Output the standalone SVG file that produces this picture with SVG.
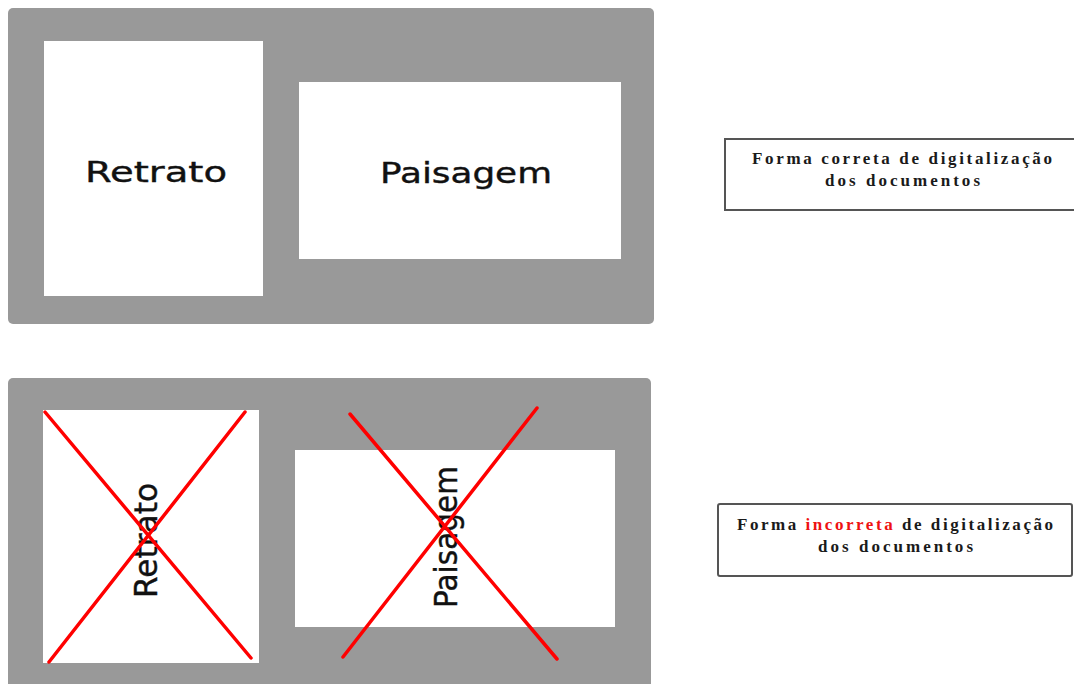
<svg xmlns="http://www.w3.org/2000/svg" width="1074" height="684" viewBox="0 0 1074 684">
<style>
.panel{fill:#999999}
.sheet{fill:#ffffff}
.lbl{font-family:"DejaVu Sans","Open Sans",sans-serif;font-size:29px;fill:#111;stroke:#111;stroke-width:0.4}
.rot{font-size:32px}
.cross{stroke:#ff0000;stroke-width:3.5;stroke-linecap:round}
.box{fill:#ffffff;stroke:#555555;stroke-width:2}
.cap{font-family:"Liberation Serif","Times New Roman",serif;font-weight:bold;font-size:17px;fill:#1a1a1a}
.red{fill:#ee1111}
</style>
<rect width="1074" height="684" fill="#ffffff"/>
<g id="top-panel">
<rect class="panel" x="8" y="8" width="646" height="316" rx="5"/>
<g id="top-retrato">
<rect class="sheet" x="44" y="41" width="219" height="255"/>
<text class="lbl" x="85" y="182" textLength="142" lengthAdjust="spacingAndGlyphs">Retrato</text>
</g>
<g id="top-paisagem">
<rect class="sheet" x="299" y="82" width="322" height="177"/>
<text class="lbl" x="380" y="183" textLength="172" lengthAdjust="spacingAndGlyphs">Paisagem</text>
</g>
</g>
<g id="bottom-panel">
<rect class="panel" x="8" y="378" width="643" height="320" rx="5"/>
<g id="bottom-retrato">
<rect class="sheet" x="43" y="410" width="216" height="253"/>
<text class="lbl rot" transform="translate(157,598) rotate(-90)" x="0" y="0" textLength="115" lengthAdjust="spacingAndGlyphs">Retrato</text>
</g>
<g id="bottom-paisagem">
<rect class="sheet" x="295" y="450" width="320" height="177"/>
<text class="lbl rot" transform="translate(457,608) rotate(-90)" x="0" y="0" textLength="142" lengthAdjust="spacingAndGlyphs">Paisagem</text>
</g>
</g>
<g id="connectors">
<line class="cross" x1="45" y1="412" x2="251" y2="658"/>
<line class="cross" x1="245" y1="412" x2="49" y2="662"/>
<line class="cross" x1="350" y1="414" x2="557" y2="659"/>
<line class="cross" x1="537" y1="408" x2="343" y2="657"/>
</g>
<g id="label-correta">
<rect class="box" x="725" y="139" width="360" height="71"/>
<text class="cap" x="752" y="164" textLength="300" lengthAdjust="spacing">Forma correta de digitalização</text>
<text class="cap" x="825" y="186" textLength="155" lengthAdjust="spacing">dos documentos</text>
</g>
<g id="label-incorreta">
<rect class="box" x="718" y="504" width="354" height="72" rx="2"/>
<text class="cap" x="737" y="530" textLength="316" lengthAdjust="spacing">Forma <tspan class="red">incorreta</tspan> de digitalização</text>
<text class="cap" x="818" y="552" textLength="155" lengthAdjust="spacing">dos documentos</text>
</g>
</svg>
